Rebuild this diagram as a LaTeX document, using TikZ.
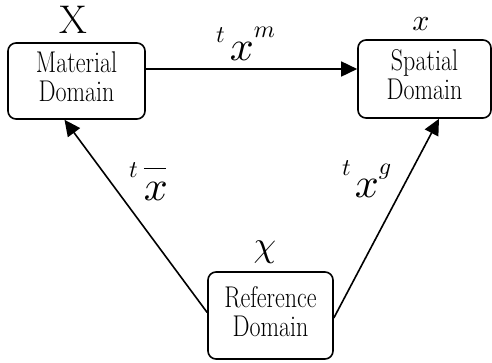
\documentclass[tikz,border=0pt]{standalone}
\usetikzlibrary{arrows.meta}
\usepackage{graphicx}
\newcommand{\fs}[1]{\fontsize{#1}{#1}\selectfont}
\newcommand{\mm}[2]{\scalebox{#1}{$#2$}}
\newcommand{\boxtxt}[2]{\scalebox{0.8}[1]{\fontsize{30}{28}\selectfont\begin{tabular}{@{}c@{}}#1\\#2\end{tabular}}}
\tikzset{
  dombox/.style={draw, line width=1.6pt, rounded corners=8pt, inner sep=0pt},
  arr/.style={line width=1.6pt, -{Triangle[length=16pt,width=15pt]}},
  lbl/.style={inner sep=0pt, anchor=base west}
}
\begin{document}
\begin{tikzpicture}[x=1pt,y=-1pt]
\useasboundingbox (0,0) rectangle (492,362);
\node[dombox, minimum width=137pt, minimum height=76pt] (mat) at (76.5,81) {\boxtxt{Material}{Domain}};
\node[dombox, minimum width=133pt, minimum height=78pt] (spa) at (424.5,79) {\boxtxt{Spatial}{Domain}};
\node[dombox, minimum width=125pt, minimum height=87pt] (ref) at (270.5,315.5) {\boxtxt{Reference}{Domain}};

\node[inner sep=0pt, anchor=base] (lX) at (73,33) {\fs{40}X};
\node[inner sep=0pt, anchor=base] (lx) at (421,30) {\mm{3}{x}};
\node[inner sep=0pt, anchor=base] (lchi) at (265,256) {\mm{3.6}{\chi}};

\node[lbl] (lxm) at (216,60) {\raisebox{18pt}{\mm{2.4}{t}}\hspace{5pt}\mm{4.2}{x}\raisebox{23pt}{\mm{2.4}{m}}};
\node[lbl] (lxb) at (129,200) {\raisebox{23pt}{\mm{2.4}{t}}\hspace{6pt}\rlap{\raisebox{31pt}{\rule{22pt}{1.5pt}}}\mm{4.2}{x}};
\node[lbl] (lxg) at (342,197) {\raisebox{22pt}{\mm{2.4}{t}}\hspace{4pt}\mm{4.2}{x}\raisebox{23pt}{\mm{2.4}{g}}};

\draw[arr] ([yshift=12pt]mat.east) -- ([yshift=10pt]spa.west);
\draw[arr] ([yshift=3pt]ref.west) -- ([xshift=-12pt]mat.south);
\draw[arr] ([yshift=-2.5pt]ref.east) -- ([xshift=14.5pt]spa.south);
\end{tikzpicture}
\end{document}
